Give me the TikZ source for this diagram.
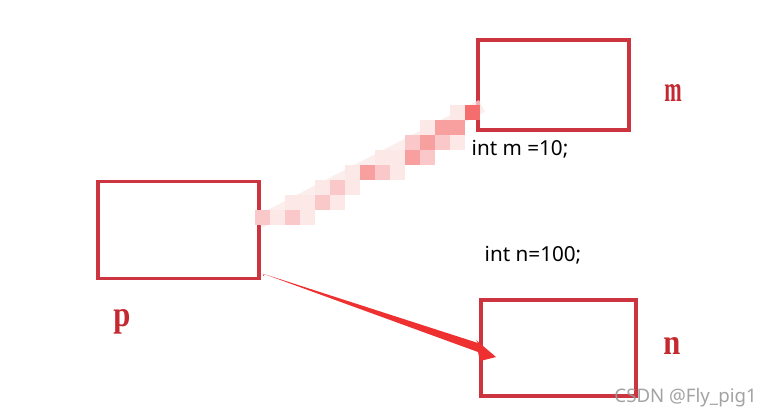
\documentclass[tikz,border=0pt]{standalone}
\usepackage{fontspec}
\setmainfont{Liberation Serif}
\newfontfamily\codefont{Noto Sans}
\newfontfamily\wmfont{Noto Sans}
\definecolor{boxred}{RGB}{204,52,64}
\definecolor{lblred}{RGB}{196,40,48}
\definecolor{arrred}{RGB}{238,48,48}
\definecolor{mos1}{RGB}{253,232,232}
\definecolor{mos2}{RGB}{250,200,200}
\definecolor{mos3}{RGB}{248,160,160}
\definecolor{mos4}{RGB}{244,110,110}
\begin{document}
\begin{tikzpicture}[x=0.75pt,y=-0.75pt]
\tikzset{
  membox/.style={draw=boxred,line width=2.3pt,inner sep=0pt,minimum width=#1},
  varlbl/.style={text=lblred,font=\bfseries\fontsize{27}{30}\selectfont,inner sep=0pt},
  codetxt/.style={font=\codefont\fontsize{15.5}{18}\selectfont,inner sep=0pt,text=black},
  mos/.style={inner sep=0pt,minimum size=11.25pt,draw=none}
}
\useasboundingbox[fill=white] (0,0) rectangle (772,418);
% boxes
\node[membox=120.75pt,minimum height=72.75pt] (p) at (178.5,230) {};
\node[membox=113.25pt,minimum height=67.5pt] (m) at (553.5,85) {};
\node[membox=116.25pt,minimum height=72pt] (n) at (558.5,348) {};
% labels
\node[varlbl,xscale=0.58] (lm) at (673,93) {m};
\node[varlbl,xscale=0.85] (lp) at (122,322) {p};
\node[varlbl,xscale=0.85] (ln) at (672,346) {n};
\node[codetxt] (cm) at (520,149) {int m =10;};
\node[codetxt] (cn) at (533,255) {int n=100;};
% faded mosaic connector p -> m
\coordinate (ps) at (259,222);
\coordinate (me) at (482,106);
\draw[mos1,line width=10pt,opacity=0.7] (ps) -- (me);
\foreach \x/\y/\c in {262/217/mos2,277/217/mos1,292/217/mos2,307/202/mos1,322/202/mos2,337/187/mos2,352/187/mos1,367/172/mos3,382/172/mos2,397/157/mos1,412/157/mos3,427/157/mos2,412/142/mos2,427/142/mos3,442/142/mos2,442/127/mos3,457/127/mos3,472/112/mos4,
  292/202/mos1,322/187/mos1,352/172/mos1,382/157/mos1,427/127/mos1,457/112/mos1,307/217/mos1,337/202/mos1,397/172/mos1,457/142/mos1}
  \node[mos,fill=\c] at (\x,\y) {};
% red arrow p -> n (tapered)
\coordinate (as) at (264,274);
\coordinate (at) at (496,357);
\fill[arrred] (as) -- (478,343) -- (476,340) -- (at) -- (480,361) -- (478,352) -- cycle;
\draw[arrred,line width=0.5pt] (p.south east) ++(3,-4) -- (as);
% watermark
\node[font=\wmfont\fontsize{14}{16}\selectfont,text=gray!80,opacity=0.9,inner sep=0pt,anchor=east] (wm) at (757,398) {CSDN @Fly\_pig1};
\end{tikzpicture}
\end{document}
